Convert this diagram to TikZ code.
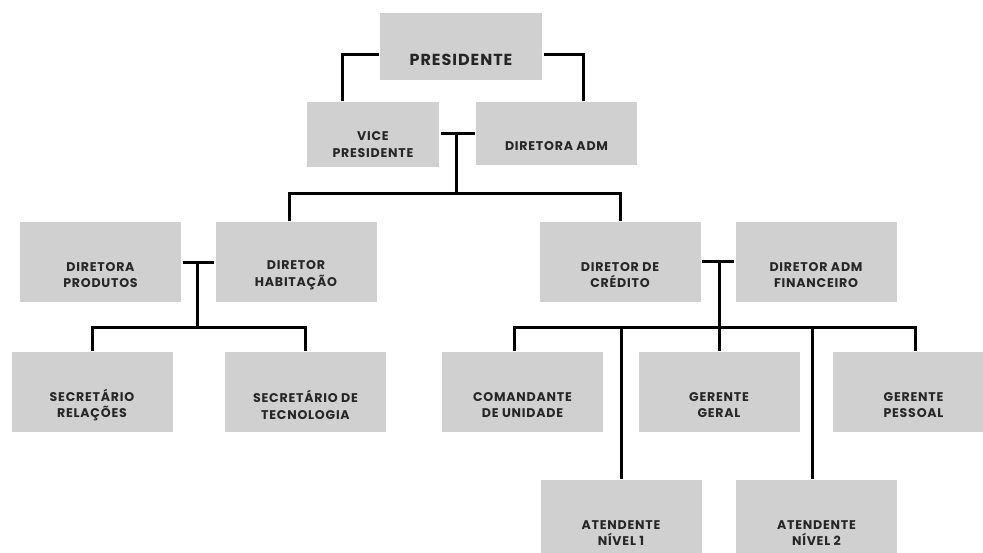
\documentclass[tikz,border=0pt]{standalone}
\usepackage{fontspec}
\setmainfont{Poppins}
\newfontfamily\boxfont{Poppins}[LetterSpace=6]
\usetikzlibrary{positioning}
\definecolor{boxgray}{RGB}{208,208,208}
\definecolor{textgray}{RGB}{38,38,38}
\begin{document}
\begin{tikzpicture}[x=1pt,y=-1pt,line width=3pt,
  box/.style={fill=boxgray,draw=none,minimum width=161pt,minimum height=80pt,inner sep=0pt},
  box text/.style={align=center,text=textgray,yshift=-13pt,font=\boxfont\bfseries\fontsize{12.6}{16.5}\selectfont}]
      \useasboundingbox (0,0) rectangle (983,552);

      % top
      \node [box,minimum width=162pt,minimum height=67pt,label={[box text,font=\boxfont\bfseries\fontsize{16}{18}\selectfont]center:PRESIDENTE}] (pres) at (461,46.5) {};
      \node [box,minimum width=132pt,minimum height=65pt,label={[box text,yshift=3pt]center:VICE\\PRESIDENTE}] (vice) at (373,134.5) {};
      \node [box,minimum height=63pt,label={[box text]center:DIRETORA ADM}] (dadm) at (556.5,133.5) {};

      % directors
      \node [box,label={[box text]center:DIRETORA\\PRODUTOS}] (dprod) at (100.5,262) {};
      \node [box,label={[box text]center:DIRETOR\\HABITAÇÃO}] (dhab) at (296,262) {};
      \node [box,label={[box text]center:DIRETOR DE\\CRÉDITO}] (dcred) at (620,262) {};
      \node [box,label={[box text]center:DIRETOR ADM\\FINANCEIRO}] (dfin) at (816,262) {};

      % third level
      \node [box,label={[box text]center:SECRETÁRIO\\RELAÇÕES}] (srel) at (92,392) {};
      \node [box,label={[box text]center:SECRETÁRIO DE\\TECNOLOGIA}] (stec) at (305.5,392) {};
      \node [box,label={[box text]center:COMANDANTE\\DE UNIDADE}] (cmd) at (522.5,392) {};
      \node [box,label={[box text]center:GERENTE\\GERAL}] (ggeral) at (719,392) {};
      \node [box,label={[box text]center:GERENTE\\PESSOAL}] (gpess) at (913.5,392) {};
      \node [box,label={[box text]center:ATENDENTE\\NÍVEL 1}] (at1) at (621,520) {};
      \node [box,label={[box text]center:ATENDENTE\\NÍVEL 2}] (at2) at (816.5,520) {};

      \coordinate (t1) at (456,133);
      \coordinate (b1) at (456,193);
      \coordinate (t2) at (197,262);
      \coordinate (b2) at (197,327);
      \coordinate (t3) at (719,261);
      \coordinate (b3) at (719,327);

      \draw ([yshift=-8]pres.west) -| ([xshift=-31]vice.north);
      \draw ([yshift=-8]pres.east) -| ([xshift=26.5]dadm.north);

      \draw (vice.east |- t1) -- (dadm.west |- t1);
      \draw (t1) -- (b1);
      \draw ([xshift=-7]dhab.north) |- (b1) -| (dcred.north);

      \draw (dprod.east) -- (dhab.west);
      \draw (t2) -- (b2);
      \draw (srel.north) |- (b2) -| (stec.north);

      \draw (dcred.east |- t3) -- (dfin.west |- t3);
      \draw (t3) -- (b3);
      \draw ([xshift=-8]cmd.north) |- (b3) -- (ggeral.north);
      \draw (b3) -| ([xshift=1.5]gpess.north);
      \draw (at1.north |- b3) -- (at1.north);
      \draw ([xshift=-4]at2.north |- b3) -- ([xshift=-4]at2.north);
    \end{tikzpicture}
\end{document}
